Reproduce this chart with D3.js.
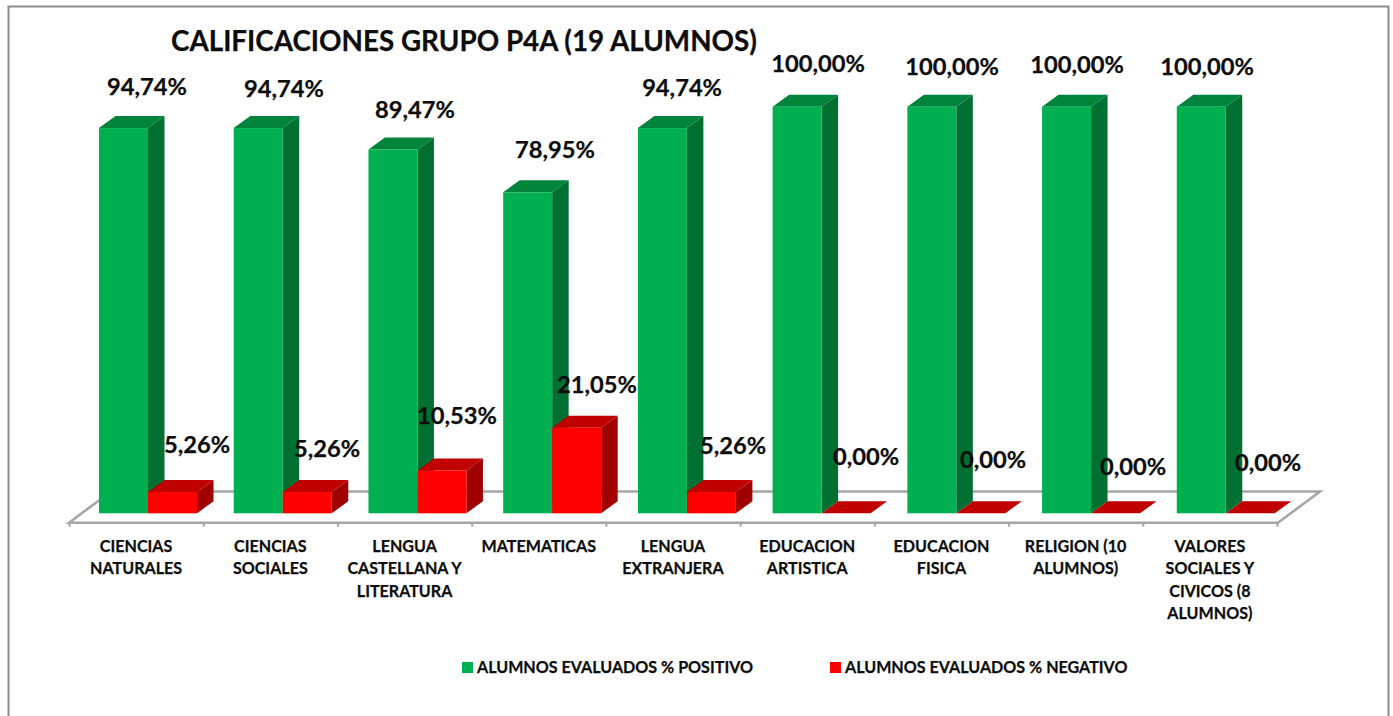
<!DOCTYPE html>
<html>
<head>
<meta charset="utf-8">
<title>Calificaciones grupo P4A</title>
<script src="https://cdn.jsdelivr.net/npm/d3@7"></script>
<style>
  html, body { margin: 0; padding: 0; background: #fff; }
  svg { display: block; }
  text { font-family: Lato, "Open Sans", sans-serif; font-weight: 700; fill: #0d0d0d; stroke: #0d0d0d; stroke-width: .25px; }
</style>
</head>
<body>
<svg id="chart" width="1393" height="716"></svg>
<script>
// data
const titleText = 'CALIFICACIONES GRUPO P4A (19 ALUMNOS)'
const categories = ['CN', 'CS', 'LCL', 'MAT', 'LE', 'EA', 'EF', 'REL', 'VSC']
const categoryLines = [
  ['CIENCIAS', 'NATURALES'],
  ['CIENCIAS', 'SOCIALES'],
  ['LENGUA', 'CASTELLANA Y', 'LITERATURA'],
  ['MATEMATICAS'],
  ['LENGUA', 'EXTRANJERA'],
  ['EDUCACION', 'ARTISTICA'],
  ['EDUCACION', 'FISICA'],
  ['RELIGION (10', 'ALUMNOS)'],
  ['VALORES', 'SOCIALES Y', 'CIVICOS (8', 'ALUMNOS)']
]
const positivo = [94.74, 94.74, 89.47, 78.95, 94.74, 100, 100, 100, 100]
const negativo = [5.26, 5.26, 10.53, 21.05, 5.26, 0, 0, 0, 0]
const seriesNames = ['ALUMNOS EVALUADOS % POSITIVO', 'ALUMNOS EVALUADOS % NEGATIVO']

// the data labels were dragged by hand in the original, so each has its own offset
const positivoNudge = [[23.5, -41], [26.3, -39], [23.1, -39.5], [28.9, -43], [21.7, -40], [23.5, -42.7], [23.3, -39.7], [14.1, -41.7], [9.9, -39.7]]
const negativoNudge = [[24.5, -47], [20.3, -43], [16.1, -54.5], [21.9, -42.7], [23.7, -46], [22.5, -57], [15.3, -54], [21.1, -47], [21.9, -51]]

const svg = d3.select('#chart')

// ticks and category names sit on the floor front, bars drift a little wider in the 3d view
const x = d3.scaleBand().domain(categories).range([69, 1277])
const xBars = d3.scaleBand().domain(categories).range([69, 1281.5])
const y = d3.scaleLinear().domain([0, 100]).range([513.3, 106.7])
const xTicks = d3.scaleLinear().domain([0, categories.length]).range([69, 1277])

const barW = 49
const barStart = 30
const depthX = 16.5
const depthY = 12

// frame, no bottom edge in the picture
svg.append('path')
  .attr('d', 'M8.5,716V6.5H1388.5V716')
  .attr('fill', 'none')
  .attr('stroke', '#8c8c8c')
  .attr('stroke-width', 2)

// floor
const floorFront = 522.7
const floorBack = 491.5
svg.append('path')
  .attr('d', `M69,${floorFront}L111,${floorBack}H1320L1278,${floorFront}Z`)
  .attr('fill', '#fff')
  .attr('stroke', '#a6a6a6')
  .attr('stroke-width', 2.6)

const axis = d3.axisBottom(xTicks)
  .ticks(categories.length)
  .tickFormat('')
  .tickSizeInner(4)
  .tickSizeOuter(0)

const axisG = svg.append('g')
  .attr('transform', `translate(0,${floorFront})`)
  .call(axis)
axisG.select('.domain').remove()
axisG.selectAll('line').attr('stroke', '#a6a6a6').attr('stroke-width', 2)

function drawBars(values, offset, front, top, side) {
  const g = svg.append('g')
  values.forEach(function (v, i) {
    const x0 = xBars(categories[i]) + barStart + offset
    const x1 = x0 + barW
    const y0 = y(0)
    const y1 = y(v)
    // side
    g.append('path')
      .attr('d', `M${x1},${y1}L${x1 + depthX},${y1 - depthY}V${y0 - depthY}L${x1},${y0}Z`)
      .attr('fill', side)
    // top
    g.append('path')
      .attr('d', `M${x0},${y1}L${x0 + depthX},${y1 - depthY}H${x1 + depthX}L${x1},${y1}Z`)
      .attr('fill', top)
    // front
    g.append('rect')
      .attr('x', x0)
      .attr('y', y1)
      .attr('width', barW)
      .attr('height', y0 - y1)
      .attr('fill', front)
  })
}

drawBars(positivo, 0, '#00b050', '#00843c', '#006f32')
drawBars(negativo, barW, '#ff0000', '#c00000', '#a00000')

function drawLabels(values, offset, nudge) {
  svg.append('g').selectAll('text')
    .data(values)
    .join('text')
    .attr('x', (d, i) => x(categories[i]) + barStart + offset + barW / 2 + nudge[i][0])
    .attr('y', (d, i) => y(d) + nudge[i][1])
    .attr('dy', '.35em')
    .attr('text-anchor', 'middle')
    .attr('font-size', 23.7)
    .text(d => d3.format('.2f')(d).replace('.', ',') + '%')
}

drawLabels(positivo, 0, positivoNudge)
drawLabels(negativo, barW, negativoNudge)

// category labels
categoryLines.forEach(function (lines, i) {
  lines.forEach(function (line, j) {
    svg.append('text')
      .attr('x', x(categories[i]) + x.bandwidth() / 2)
      .attr('y', 546 + j * 22.6)
      .attr('dy', '.35em')
      .attr('text-anchor', 'middle')
      .attr('font-size', 16.1)
      .text(line)
  })
})

// title
svg.append('text')
  .attr('x', 171)
  .attr('y', 41)
  .attr('dy', '.35em')
  .attr('font-size', 27.8)
  .text(titleText)

// legend
const legendX = [462, 830]
const legendColors = ['#00b050', '#ff0000']
seriesNames.forEach(function (name, i) {
  svg.append('rect')
    .attr('x', legendX[i])
    .attr('y', 662)
    .attr('width', 11)
    .attr('height', 11)
    .attr('fill', legendColors[i])
  svg.append('text')
    .attr('x', legendX[i] + 15)
    .attr('y', 667)
    .attr('dy', '.35em')
    .attr('font-size', 16.1)
    .text(name)
})
</script>
</body>
</html>
